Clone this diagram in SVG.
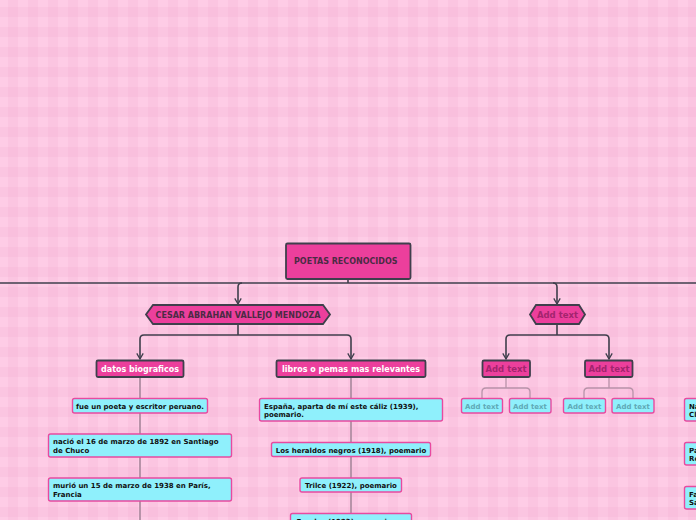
<svg xmlns="http://www.w3.org/2000/svg" width="696" height="520" viewBox="0 0 696 520">
<defs>
<pattern id="ging" x="0" y="0" width="20" height="20" patternUnits="userSpaceOnUse">
<rect width="20" height="20" fill="#fecce6"/>
<rect x="8" y="0" width="10" height="20" fill="#e9a0c8" fill-opacity="0.17"/>
<rect x="0" y="7" width="20" height="10" fill="#e9a0c8" fill-opacity="0.17"/>
</pattern>
<marker id="arr" viewBox="0 0 10 10" refX="9" refY="5" markerWidth="8" markerHeight="8" markerUnits="userSpaceOnUse" orient="auto">
<path d="M2,1 L9,5 L2,9" fill="none" stroke="#3f3f4c" stroke-width="1.6"/>
</marker>
<style>
.main{fill:#ec3f9c;stroke:#3f3f4c;stroke-width:1.8}
.sub{fill:#ec3f9c;stroke:#3f3f4c;stroke-width:1.8}
.leaf{fill:#8ff0fc;stroke:#e84aa0;stroke-width:1.4}
.t{font-family:"DejaVu Sans",Verdana,sans-serif;font-weight:bold}
.dark{fill:#4b2b44;font-size:8px}
.white{fill:#ffffff;font-size:8.5px}
.mag{fill:#a3246e;font-size:8.5px}
.blk{fill:#111111;font-size:7px}
.gray{fill:#5fa9b6;font-size:7px}
.con{fill:none;stroke:#3f3f4c;stroke-width:1.6}
.con2{fill:none;stroke:#b893a9;stroke-width:2}
.con3{fill:none;stroke:#b893a9;stroke-width:1.3}
</style>
</defs>
<rect width="696" height="520" fill="url(#ging)"/>

<g id="connectors">
<path class="con" d="M348,279 V283"/>
<path class="con" d="M0,283 H696"/>
<path class="con" d="M242,283 Q238,283 238,287 V304" marker-end="url(#arr)"/>
<path class="con" d="M553,283 Q557,283 557,287 V304" marker-end="url(#arr)"/>
<path class="con" d="M238,324 V335"/>
<path class="con" d="M238,335 H144 Q140,335 140,339 V359" marker-end="url(#arr)"/>
<path class="con" d="M238,335 H347 Q351,335 351,339 V359" marker-end="url(#arr)"/>
<path class="con" d="M557,324 V335"/>
<path class="con" d="M557,335 H510 Q506,335 506,339 V359" marker-end="url(#arr)"/>
<path class="con" d="M557,335 H605 Q609,335 609,339 V359" marker-end="url(#arr)"/>
<path class="con2" d="M140,377 V520"/>
<path class="con2" d="M351,377 V520"/>
<path class="con3" d="M506,377 V388"/>
<path class="con3" d="M482,399 V392 Q482,388 486,388 H526 Q530,388 530,392 V399"/>
<path class="con3" d="M609,377 V388"/>
<path class="con3" d="M584,399 V392 Q584,388 588,388 H629 Q633,388 633,392 V399"/>
</g>

<g id="root">
<rect class="main" x="286" y="243.5" width="124.5" height="35.5" rx="1.5"/>
<text class="t dark" x="294" y="264">POETAS RECONOCIDOS</text>
</g>

<g id="cesar">
<polygon class="main" points="153,305 323,305 330,314.5 323,324 153,324 146,314.5"/>
<text class="t dark" x="238" y="317.5" text-anchor="middle">CESAR ABRAHAN VALLEJO MENDOZA</text>
</g>

<g id="addtext-hex">
<polygon class="main" points="536,305 579,305 585,314.5 579,324 536,324 530,314.5"/>
<text class="t mag" x="557.5" y="318" text-anchor="middle">Add text</text>
</g>

<g id="datos">
<rect class="sub" x="96.5" y="360.5" width="87" height="16.5" rx="1.5"/>
<text class="t white" x="140" y="372" text-anchor="middle" textLength="78" lengthAdjust="spacingAndGlyphs">datos biograficos</text>
</g>

<g id="libros">
<rect class="sub" x="276.5" y="360.5" width="149" height="16.5" rx="1.5"/>
<text class="t white" x="351" y="372" text-anchor="middle" textLength="138" lengthAdjust="spacingAndGlyphs">libros  o pemas mas relevantes</text>
</g>

<g id="add1">
<rect class="sub" x="482.5" y="360.5" width="47.5" height="16.5" rx="1.5"/>
<text class="t mag" x="506" y="372" text-anchor="middle">Add text</text>
</g>

<g id="add2">
<rect class="sub" x="585" y="360.5" width="47.5" height="16.5" rx="1.5"/>
<text class="t mag" x="609" y="372" text-anchor="middle">Add text</text>
</g>

<g id="bio1">
<rect class="leaf" x="72.5" y="398.5" width="135" height="14.5" rx="2"/>
<text class="t blk" x="140" y="408.5" text-anchor="middle">fue un poeta y escritor peruano.</text>
</g>
<g id="bio2">
<rect class="leaf" x="48.5" y="434" width="183" height="23" rx="2"/>
<text class="t blk" x="53" y="444">nació el 16 de marzo de 1892 en Santiago</text>
<text class="t blk" x="53" y="452.5">de Chuco</text>
</g>
<g id="bio3">
<rect class="leaf" x="48.5" y="478" width="183" height="23" rx="2"/>
<text class="t blk" x="53" y="488">murió un 15 de marzo de 1938 en París,</text>
<text class="t blk" x="53" y="496.5">Francia</text>
</g>

<g id="lib1">
<rect class="leaf" x="259.5" y="398.5" width="183" height="22.5" rx="2"/>
<text class="t blk" x="264" y="408.5">España, aparta de mí este cáliz (1939),</text>
<text class="t blk" x="264" y="417">poemario.</text>
</g>
<g id="lib2">
<rect class="leaf" x="271.5" y="442.5" width="159" height="14" rx="2"/>
<text class="t blk" x="351" y="452.5" text-anchor="middle">Los heraldos negros (1918), poemario</text>
</g>
<g id="lib3">
<rect class="leaf" x="300" y="478" width="101.5" height="14" rx="2"/>
<text class="t blk" x="351" y="488" text-anchor="middle">Trilce (1922), poemario</text>
</g>
<g id="lib4">
<rect class="leaf" x="290.5" y="513.5" width="121" height="14" rx="2"/>
<text class="t blk" x="351" y="523.5" text-anchor="middle">Escalas (1923), narraciones</text>
</g>

<g id="c1a">
<rect class="leaf" x="461.5" y="398.5" width="41" height="14.5" rx="2"/>
<text class="t gray" x="482" y="408.5" text-anchor="middle">Add text</text>
</g>
<g id="c1b">
<rect class="leaf" x="509.5" y="398.5" width="41.5" height="14.5" rx="2"/>
<text class="t gray" x="530" y="408.5" text-anchor="middle">Add text</text>
</g>
<g id="c2a">
<rect class="leaf" x="563.5" y="398.5" width="42" height="14.5" rx="2"/>
<text class="t gray" x="584.5" y="408.5" text-anchor="middle">Add text</text>
</g>
<g id="c2b">
<rect class="leaf" x="612" y="398.5" width="42" height="14.5" rx="2"/>
<text class="t gray" x="633" y="408.5" text-anchor="middle">Add text</text>
</g>

<g id="r1">
<rect class="leaf" x="684.5" y="398.5" width="40" height="22.5" rx="2"/>
<text class="t blk" x="689" y="408.5">Na</text>
<text class="t blk" x="689" y="417">Cl</text>
</g>
<g id="r2">
<rect class="leaf" x="684.5" y="442.5" width="40" height="22.5" rx="2"/>
<text class="t blk" x="689" y="452.5">Pa</text>
<text class="t blk" x="689" y="461">Re</text>
</g>
<g id="r3">
<rect class="leaf" x="684.5" y="486.5" width="40" height="22.5" rx="2"/>
<text class="t blk" x="689" y="496.5">Fa</text>
<text class="t blk" x="689" y="505">Sa</text>
</g>
</svg>
